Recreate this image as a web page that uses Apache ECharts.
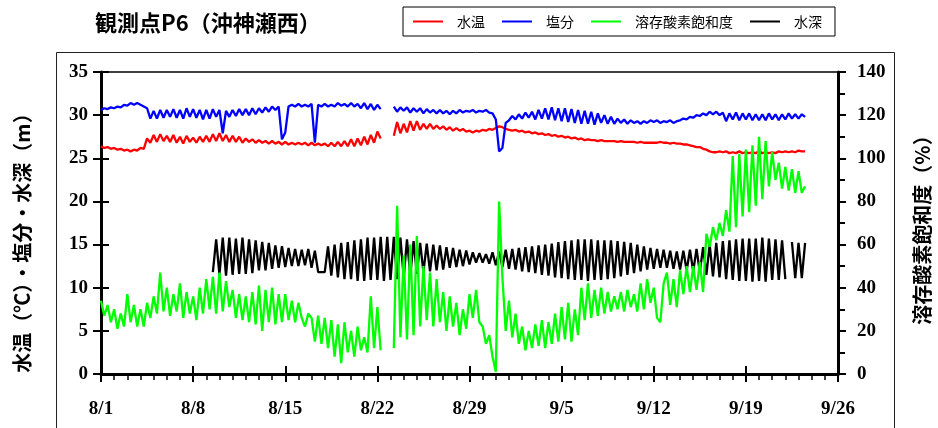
<!DOCTYPE html>
<html>
<head>
<meta charset="utf-8">
<script src="https://cdn.jsdelivr.net/npm/echarts@6/dist/echarts.min.js"></script>
<style>
html,body{margin:0;padding:0;background:#fff}
#chart{width:938px;height:428px}
</style>
</head>
<body>
<div id="chart"></div>
<script>
// x is measured in days from 8/1; samples every 6 hours
const STEP = 0.25;
const mainStart = 0;
const depthStart = 8.5;

const dateTicks = ['8/1','8/8','8/15','8/22','8/29','9/5','9/12','9/19','9/26'];
const legendNames = ['水温','塩分','溶存酸素飽和度','水深'];

// 水温 (℃), one row per day
const temperature = [
  26.4,26.2,26.3,26.1, 26.2,26.0,26.1,25.9, 26.0,25.8,26.0,25.9, 26.2,26.1,27.3,26.8,
  27.7,26.9,27.8,27.0, 27.6,26.9,27.7,26.8, 27.5,26.7,27.6,26.9, 27.4,26.8,27.5,26.9,
  27.6,26.9,27.8,27.0, 27.9,27.0,27.7,26.9, 27.6,26.9,27.5,26.8, 27.3,26.9,27.2,26.8,
  27.1,26.8,27.0,26.7, 27.0,26.7,26.9,26.6, 26.9,26.6,26.8,26.6, 26.8,26.6,26.8,26.5,
  26.8,26.5,26.7,26.5, 26.7,26.4,26.8,26.4, 26.9,26.4,27.0,26.4, 27.2,26.4,27.3,26.5,
  27.5,26.6,27.7,26.8, 28.1,27.3,null,null, null,27.6,29.2,27.9, 29.0,28.0,29.3,28.2,
  29.3,28.3,29.0,28.4, 29.0,28.4,28.8,28.4, 28.7,28.3,28.6,28.2, 28.5,28.2,28.4,28.1,
  28.2,28.0,28.2,28.1, 28.3,28.2,28.4,28.3, 28.5,28.7,28.6,28.4, 28.3,28.2,28.3,28.1,
  28.2,28.0,28.1,27.9, 28.0,27.8,27.9,27.7, 27.8,27.6,27.7,27.5, 27.6,27.4,27.5,27.3,
  27.4,27.2,27.3,27.1, 27.2,27.1,27.1,27.0, 27.1,27.0,27.0,27.0, 27.0,26.9,27.0,26.9,
  26.9,26.9,26.9,26.8, 26.9,26.8,26.8,26.8, 26.8,26.8,26.9,26.8, 26.8,26.7,26.8,26.7,
  26.7,26.6,26.6,26.5, 26.4,26.3,26.3,26.1, 26.0,25.8,25.7,25.7, 25.8,25.7,25.8,25.6,
  25.7,25.6,25.8,25.6, 25.7,25.6,25.7,25.6, 25.8,25.6,25.7,25.6, 25.7,25.6,25.8,25.7,
  25.8,25.7,25.8,25.7, 25.9,25.8,25.8
];

// 塩分
const salinity = [
  30.6,30.8,30.7,30.9, 30.8,31.0,30.9,31.2, 31.1,31.4,31.2,31.4, 31.2,31.0,30.8,29.6,
  30.5,29.6,30.6,29.7, 30.6,29.8,30.7,29.7, 30.6,29.6,30.8,29.8, 30.7,29.7,30.6,29.5,
  30.6,29.6,30.7,29.8, 30.6,27.9,30.5,29.8, 30.6,29.9,30.7,30.0, 30.7,30.0,30.8,30.1,
  30.8,30.3,30.9,30.4, 31.0,30.6,31.0,27.2, 28.0,31.0,31.2,31.0, 31.3,31.0,31.2,31.0,
  31.3,26.8,31.2,31.0, 31.3,31.0,31.2,31.0, 31.4,31.1,31.3,31.0, 31.4,31.0,31.3,30.8,
  31.4,30.7,31.3,30.6, 31.2,30.7,null,null, null,31.0,30.4,30.9, 30.5,30.9,30.3,30.8,
  30.4,30.8,30.2,30.7, 30.3,30.6,30.2,30.6, 30.2,30.5,30.1,30.5, 30.2,30.6,30.3,30.5,
  30.4,30.6,30.3,30.5, 30.4,30.6,30.3,30.2, 29.5,25.8,26.2,29.1, 29.4,29.9,29.5,30.1,
  29.6,30.3,29.7,30.4, 29.5,30.6,29.6,30.8, 29.5,30.9,29.4,30.8, 29.3,30.8,29.2,30.7,
  29.1,30.6,29.0,30.5, 29.0,30.4,28.9,30.2, 29.1,30.0,29.0,29.8, 29.0,29.6,29.1,29.5,
  29.0,29.4,29.1,29.3, 29.0,29.3,29.1,29.4, 29.2,29.4,29.1,29.3, 29.2,29.4,29.1,29.3,
  29.4,29.6,29.5,29.8, 29.7,30.0,29.9,30.2, 30.0,30.4,30.1,30.4, 30.0,30.3,29.3,30.2,
  29.5,30.3,29.4,30.2, 29.5,30.2,29.4,30.1, 29.4,30.1,29.4,30.2, 29.5,30.1,29.4,30.1,
  29.5,30.2,29.6,30.1, 29.6,30.1,29.8
];

// 溶存酸素飽和度 (%)
const oxygen = [
  34,27,32,24, 30,21,28,22, 37,24,32,22, 30,22,33,26,
  36,28,47,29, 40,27,37,29, 42,26,38,28, 36,25,40,28,
  44,30,45,28, 47,29,43,31, 39,26,37,25, 36,24,38,23,
  41,20,39,24, 40,23,37,24, 37,25,34,24, 33,26,22,28,
  26,15,27,14, 26,12,25,8, 23,5,24,10, 20,8,22,11,
  17,10,36,12, 31,11,null,null, null,12,78,17, 55,16,60,18,
  64,22,50,25, 47,22,44,24, 38,20,36,22, 33,18,30,21,
  37,26,39,24, 22,14,18,8, 1,80,45,20, 34,17,28,14,
  22,11,20,12, 23,13,25,12, 24,14,28,15, 31,16,33,15,
  30,18,40,25, 42,26,39,27, 40,28,38,29, 36,30,38,29,
  39,31,37,29, 42,30,44,33, 40,26,24,42, 47,32,44,31,
  48,37,50,38, 50,39,52,38, 65,59,68,62, 70,64,76,66,
  101,68,102,73, 104,75,106,78, 110,81,108,87, 103,90,98,86,
  96,85,95,84, 94,84,87
];

// 水深 (m), from 8/9 12:00
const depth = [
  11.8,15.6,
  11.5,15.8,11.4,15.8, 11.5,15.7,11.6,15.8, 11.6,15.6,11.7,15.5, 12.0,15.3,12.0,15.2,
  12.2,14.9,12.3,14.8, 12.4,14.6,12.5,14.5, 12.5,14.4,12.6,14.5, 12.3,14.3,11.8,11.8,
  11.8,14.8,11.4,15.0, 11.2,15.2,11.0,15.3, 11.0,15.5,10.8,15.6, 10.8,15.8,10.9,15.8,
  10.9,15.9,10.8,15.9, 10.9,15.9,11.0,15.8, 11.2,15.6,11.4,15.4, 11.6,15.2,11.8,15.1,
  11.9,15.0,12.0,14.9, 12.1,14.7,12.3,14.6, 12.4,14.4,12.5,14.3, 12.7,14.1,12.9,14.0,
  12.9,13.9,12.8,14.1, 12.6,14.2,12.4,14.4, 12.2,14.5,12.1,14.6, 11.9,14.7,11.8,14.8,
  11.7,14.9,11.5,15.0, 11.4,15.1,11.2,15.3, 11.1,15.4,11.0,15.5, 10.9,15.6,10.9,15.6,
  10.8,15.6,10.9,15.5, 10.9,15.5,11.0,15.5, 11.1,15.4,11.3,15.3, 11.5,15.2,11.7,15.0,
  11.9,14.8,12.1,14.6, 12.2,14.5,12.3,14.4, 12.3,14.3,12.2,14.2, 12.1,14.3,12.0,14.4,
  11.9,14.5,11.8,14.7, 11.5,15.0,11.3,15.2, 11.2,15.4,11.0,15.5, 10.9,15.6,10.8,15.7,
  10.8,15.7,10.7,15.7, 10.8,15.8,10.7,15.7, 10.9,15.6,10.9,15.5, 11.0,null,15.3,11.1,
  15.2,11.1,15.2
];

function toPoints(values, start) {
  return values.map((v, i) => [start + i * STEP, v]);
}

const serifBold = '"Liberation Serif","Times New Roman",serif';
const jpFont = '"Noto Sans CJK JP","Noto Sans",sans-serif';
const black = '#000';

const tickLabel = {
  fontFamily: serifBold, fontWeight: 'bold', fontSize: 19, color: black
};

function yAxisPair(pos, max, interval, labelMargin, withMinor) {
  return [
    {
      type: 'value', position: pos, min: 0, max: max, interval: interval,
      axisLine: { show: true, onZero: false, lineStyle: { color: black, width: 3 } },
      axisTick: { show: true, inside: false, length: 8, lineStyle: { color: black, width: 2 } },
      minorTick: { show: withMinor, splitNumber: 2, length: 7, lineStyle: { color: black, width: 2 } },
      splitLine: { show: false }, minorSplitLine: { show: false },
      axisLabel: Object.assign({ margin: labelMargin }, tickLabel)
    },
    {
      type: 'value', position: pos, min: 0, max: max, interval: interval,
      axisLine: { show: false },
      axisTick: { show: true, inside: true, length: 8, lineStyle: { color: black, width: 2 } },
      splitLine: { show: false },
      axisLabel: { show: false }
    }
  ];
}

const chart = echarts.init(document.getElementById('chart'), null, { renderer: 'canvas' });

const lineSeries = (name, data, color, yIndex, z) => ({
  name: name, type: 'line', data: data, xAxisIndex: 0, yAxisIndex: yIndex,
  showSymbol: false, symbol: 'none', connectNulls: false, z: z,
  lineStyle: { color: color, width: 2.3 }, itemStyle: { color: color },
  emphasis: { disabled: true }
});

chart.setOption({
  animation: false,
  backgroundColor: '#fff',
  grid: {
    left: 101, right: 100, top: 72, bottom: 54,
    show: true, borderColor: black, borderWidth: 1.5, backgroundColor: 'transparent',
    outerBoundsMode: 'none'
  },
  legend: {
    left: 403, top: 7, orient: 'horizontal',
    icon: 'rect', itemWidth: 30, itemHeight: 2, itemGap: 17,
    padding: [7, 13, 7, 10],
    borderColor: black, borderWidth: 1,
    textStyle: { fontFamily: jpFont, fontSize: 14, color: black, padding: [0, 0, 0, 9], lineHeight: 15 },
    data: legendNames
  },
  xAxis: [
    {
      type: 'value', position: 'bottom', min: 0, max: 56, interval: 7,
      axisLine: { show: true, onZero: false, lineStyle: { color: black, width: 3 } },
      axisTick: { show: true, inside: false, length: 8, lineStyle: { color: black, width: 2 } },
      minorTick: { show: true, splitNumber: 7, length: 6, lineStyle: { color: black, width: 1.5 } },
      splitLine: { show: false }, minorSplitLine: { show: false },
      axisLabel: Object.assign({
        margin: 26, showMinLabel: true, showMaxLabel: true,
        formatter: v => dateTicks[Math.round(v / 7)]
      }, tickLabel)
    },
    {
      type: 'value', position: 'bottom', min: 0, max: 56, interval: 7,
      axisLine: { show: false, onZero: false },
      axisTick: { show: true, inside: true, length: 8, lineStyle: { color: black, width: 2 } },
      splitLine: { show: false },
      axisLabel: { show: false }
    }
  ],
  yAxis: [].concat(
    yAxisPair('left', 35, 5, 13, false),
    yAxisPair('right', 140, 20, 19, true)
  ),
  graphic: [
    {
      type: 'rect', silent: true, z: -1,
      shape: { x: 56.5, y: 52.5, width: 838, height: 400 },
      style: { fill: 'none', stroke: '#222', lineWidth: 1 }
    },
    {
      type: 'text', silent: true, x: 95, y: 23,
      style: { text: '観測点P6（沖神瀬西）', fontFamily: jpFont, fontWeight: 'bold', fontSize: 22, fill: black, align: 'left', verticalAlign: 'middle' }
    },
    {
      type: 'text', silent: true, x: 22, y: 238, rotation: Math.PI / 2,
      style: { text: '水温（℃）・塩分・水深（m）', fontFamily: jpFont, fontWeight: 'bold', fontSize: 20, fill: black, align: 'center', verticalAlign: 'middle' }
    },
    {
      type: 'text', silent: true, x: 922, y: 225, rotation: Math.PI / 2,
      style: { text: '溶存酸素飽和度（%）', fontFamily: jpFont, fontWeight: 'bold', fontSize: 20, fill: black, align: 'center', verticalAlign: 'middle' }
    }
  ],
  series: [
    lineSeries('水温', toPoints(temperature, mainStart), '#ff0000', 0, 3),
    lineSeries('塩分', toPoints(salinity, mainStart), '#0000ff', 0, 4),
    lineSeries('溶存酸素飽和度', toPoints(oxygen, mainStart), '#00ff00', 2, 5),
    lineSeries('水深', toPoints(depth, depthStart), '#000000', 0, 2)
  ]
});
</script>
</body>
</html>
